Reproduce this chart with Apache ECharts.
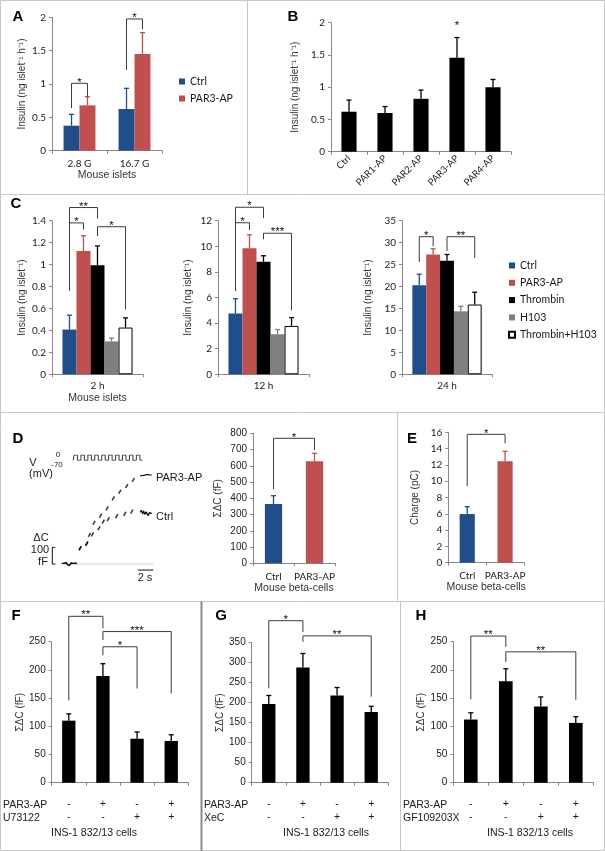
<!DOCTYPE html>
<html>
<head>
<meta charset="utf-8">
<script src="https://cdn.jsdelivr.net/npm/echarts@6/dist/echarts.min.js"></script>
<style>
  html, body { margin: 0; padding: 0; background: #fff; }
  #chart { width: 605px; height: 851px; }
</style>
</head>
<body>
<div id="chart"></div>
<script>
// ---------- values ----------
// A: mouse islets, 2.8 G vs 16.7 G glucose
const aCats = ['2.8 G', '16.7 G'];
const aCtrl = [0.375, 0.625];
const aCtrlErr = [0.545, 0.935];
const aPar3 = [0.68, 1.45];
const aPar3Err = [0.81, 1.77];

// B: PAR agonist peptides
const bCats = ['Ctrl', 'PAR1-AP', 'PAR2-AP', 'PAR3-AP', 'PAR4-AP'];
const bVals = [0.62, 0.6, 0.82, 1.455, 1.0];
const bErr = [0.8, 0.7, 0.955, 1.77, 1.12];

// C: time course
const cGroups = ['Ctrl', 'PAR3-AP', 'Thrombin', 'H103', 'Thrombin+H103'];
const cTimes = ['2 h', '12 h', '24 h'];
const c2h = [0.408, 1.123, 0.995, 0.30, 0.426];
const c2hErr = [0.539, 1.263, 1.17, 0.33, 0.514];
const c12h = [4.75, 9.84, 8.79, 3.13, 3.78];
const c12hErr = [5.9, 10.9, 9.26, 3.5, 4.43];
const c24h = [20.3, 27.3, 25.9, 14.35, 15.9];
const c24hErr = [22.8, 28.6, 27.3, 15.5, 18.7];

// D: capacitance trace (s, fF)
const baseT = [0, 0.15, 0.3, 0.45, 0.6, 0.75, 0.9, 1.05, 1.2, 1.35, 1.5, 1.65, 1.8, 1.95];
const baseC = [4, -6, 5, -2, 8, -4, 2, -7, 6, -3, 4, -5, 7, 0];
const par3StepT = [2.4, 3.25, 3.6, 4.2, 5.05, 5.9, 6.7, 7.55, 8.45, 9.3];
const par3StepC = [94, 120, 174, 247, 290, 333, 393, 433, 467, 503];
const ctrlStepT = [2.4, 3.25, 4.0, 4.85, 5.4, 6.05, 7.15, 8.2, 9.1];
const ctrlStepC = [96, 124, 178, 214, 254, 269, 287, 300, 314];
const plateauT = [10.2, 10.35, 10.5, 10.65, 10.8, 10.95, 11.1, 11.25, 11.4, 11.55, 11.7];
const par3Plateau = [528, 535, 530, 538, 532, 529, 536, 531, 534, 530, 533];
const ctrlPlateau = [310, 322, 300, 318, 296, 312, 305, 290, 308, 299, 302];
const pulseStarts = [1.6, 2.5, 3.4, 4.3, 5.2, 6.1, 7.0, 7.9, 8.8, 9.7];
const pulseWidth = 0.45;
const pulseTrain = [1.5, 10.5];
const traceEnd = 11.9;
const scaleFF = 100;
const scaleSec = 2;

// D bars / E
const dCats = ['Ctrl', 'PAR3-AP'];
const dVals = [365, 628];
const dErr = [416, 677];
const eVals = [5.97, 12.44];
const eErr = [6.87, 13.67];

// F, G, H: INS-1 832/13 cells
const par3Signs = ['-', '+', '-', '+'];
const inhibSigns = ['-', '-', '+', '+'];
const fVals = [110, 189, 78, 74];
const fErr = [122, 211, 90, 85];
const gVals = [197, 288, 218, 177];
const gErr = [218, 323, 238, 191];
const hVals = [112, 180, 135, 106];
const hErr = [124, 202, 152, 117];

// significance brackets: [leftCat, leftBar, rightCat, rightBar, yLeft, yTop, yRight, text]
const aSig = [[0, 0, 0, 1, 0.64, 1.01, 0.81, '*'], [1, 0, 1, 1, 1.21, 1.975, 1.82, '*']];
const bSig = [[3, 0, 3, 0, 1.93, 1.93, 1.93, '*']];
const c2hSig = [[0, 0, 0, 2, 0.76, 1.52, 1.42, '**'], [0, 0, 0, 1, 1.38, 1.38, 1.32, '*'], [0, 2, 0, 4, 1.26, 1.345, 0.59, '*']];
const c12hSig = [[0, 0, 0, 2, 6.5, 13.05, 12.2, '*'], [0, 0, 0, 1, 11.84, 11.84, 11.27, '*'], [0, 2, 0, 4, 10.55, 11.02, 5.0, '***']];
const c24hSig = [[0, 0, 0, 1, 25.6, 31.35, 29.2, '*'], [0, 2, 0, 4, 28.1, 31.35, 26.5, '**']];
const dSig = [[0, 0, 1, 0, 457, 769, 697, '*']];
const eSig = [[0, 0, 1, 0, 9.4, 15.75, 14.65, '*']];
const fSig = [[0, 0, 1, 0, 146, 295, 274, '**'], [1, 0, 3, 0, 253, 268, 158, '***'], [1, 0, 2, 0, 226, 241, 167, '*']];
const gSig = [[0, 0, 1, 0, 236, 405, 377, '*'], [1, 0, 3, 0, 352, 367, 215, '**']];
const hSig = [[0, 0, 1, 0, 148, 260, 241, '**'], [1, 0, 3, 0, 214, 232, 147, '**']];

// ---------- styling ----------
const SANS = '"Liberation Sans", Arial, sans-serif';
const CAL = 'Lato, "Liberation Sans", sans-serif';
const AXIS = '#878787';
const INK = '#1a1a1a';
const BLUE = '#1f4e8a', RED = '#c0504d', GREY = '#7f7f7f', BLACK = '#000000';
const cColors = [BLUE, RED, BLACK, GREY, '#ffffff'];
const cErrColors = [BLUE, RED, BLACK, GREY, BLACK];

const chart = echarts.init(document.getElementById('chart'));

const grids = [
  { left: 52, top: 17.3, width: 110, height: 133.4 },       // A
  { left: 331, top: 22.7, width: 180, height: 129 },        // B
  { left: 52, top: 220.7, width: 91, height: 153.6 },       // C 2h
  { left: 218, top: 220.7, width: 91, height: 153.6 },      // C 12h
  { left: 402, top: 220.7, width: 90, height: 153.6 },      // C 24h
  { left: 61.7, top: 463.8, width: 91.6, height: 108.6 },   // D trace
  { left: 61.7, top: 455, width: 91.6, height: 5.3 },       // D pulses
  { left: 253, top: 433.3, width: 82, height: 130 },        // D bars
  { left: 448.3, top: 432.3, width: 75.7, height: 130.4 },  // E
  { left: 51.7, top: 641.7, width: 136.6, height: 141 },    // F
  { left: 251.7, top: 642.7, width: 136.6, height: 140 },   // G
  { left: 453.3, top: 641.7, width: 140, height: 141 }      // H
].map(g => Object.assign({ outerBoundsMode: 'none', containLabel: false }, g));

function valAxis(gi, max, interval, name, nameGap, font) {
  return {
    type: 'value', gridIndex: gi, min: 0, max: max, interval: interval,
    name: name, nameLocation: 'middle', nameGap: nameGap,
    nameTextStyle: { fontFamily: SANS, fontSize: 10, color: '#333' },
    axisLine: { show: true, lineStyle: { color: AXIS, width: 1 } },
    axisTick: { show: true, length: 3, lineStyle: { color: AXIS } },
    splitLine: { show: false },
    axisLabel: { fontFamily: font || CAL, fontSize: 10, color: INK, margin: 6 }
  };
}
function catAxis(gi, data, label, name, nameGap) {
  return {
    type: 'category', gridIndex: gi, data: data,
    name: name || '', nameLocation: 'middle', nameGap: nameGap || 0,
    nameTextStyle: { fontFamily: SANS, fontSize: 10.5, color: '#333' },
    axisLine: { show: true, lineStyle: { color: AXIS, width: 1 } },
    axisTick: { show: true, interval: 0, length: 3, lineStyle: { color: AXIS } },
    axisLabel: Object.assign({ interval: 0, fontFamily: CAL, fontSize: 10, color: INK, margin: 6 }, label || {})
  };
}
function hiddenAxis(gi, min, max) {
  return { type: 'value', gridIndex: gi, min: min, max: max, show: false };
}

// x position of a bar centre inside a category band
function barX(api, cat, bi, nBars, gap) {
  const bw = api.size([1, 0])[0] * (1 - gap) / nBars;
  return api.coord([cat, 0])[0] + (bi - (nBars - 1) / 2) * bw;
}

function errSeries(gi, nBars, gap, items, colorOf) {
  return {
    type: 'custom', xAxisIndex: gi, yAxisIndex: gi, clip: false, silent: true, z: 4,
    data: items,
    renderItem: function (params, api) {
      const cat = api.value(0), bi = api.value(1);
      const x = barX(api, cat, bi, nBars, gap);
      const y0 = api.coord([cat, api.value(2)])[1];
      const y1 = api.coord([cat, api.value(3)])[1];
      const c = colorOf(cat, bi);
      return {
        type: 'group', children: [
          { type: 'line', shape: { x1: x, y1: y0, x2: x, y2: y1 }, style: { stroke: c, lineWidth: 1.3 } },
          { type: 'line', shape: { x1: x - 2.5, y1: y1, x2: x + 2.5, y2: y1 }, style: { stroke: c, lineWidth: 1.3 } }
        ]
      };
    }
  };
}

function sigSeries(gi, nBars, gap, list) {
  return {
    type: 'custom', xAxisIndex: gi, yAxisIndex: gi, clip: false, silent: true, z: 5,
    data: list.map(b => b.slice(0, 7)),
    renderItem: function (params, api) {
      const b = list[params.dataIndex];
      const xl = barX(api, b[0], b[1], nBars, gap);
      const xr = barX(api, b[2], b[3], nBars, gap);
      const yl = api.coord([0, b[4]])[1];
      const yt = api.coord([0, b[5]])[1];
      const yr = api.coord([0, b[6]])[1];
      const children = [];
      if (xr !== xl) {
        children.push({
          type: 'polyline',
          shape: { points: [[xl, yl], [xl, yt], [xr, yt], [xr, yr]] },
          style: { stroke: '#3a3a3a', fill: null, lineWidth: 1 }
        });
      }
      children.push({
        type: 'text',
        style: {
          text: b[7], x: (xl + xr) / 2, y: yt - 1, align: 'center', verticalAlign: 'middle',
          fontFamily: SANS, fontSize: 11.5, fill: '#111'
        }
      });
      return { type: 'group', children: children };
    }
  };
}

function singleBars(gi, vals, colors, gap, name) {
  return {
    type: 'bar', name: name, xAxisIndex: gi, yAxisIndex: gi, barCategoryGap: gap,
    data: vals.map((v, i) => ({ value: v, itemStyle: { color: colors[i] } }))
  };
}

const signLabels = par3Signs.map((s, i) => s + '\n' + inhibSigns[i]);
const signLabel = { margin: 15, lineHeight: 13, fontFamily: SANS, fontSize: 10.5 };

const xAxes = [
  catAxis(0, aCats, { margin: 8 }, 'Mouse islets', 19),
  catAxis(1, bCats, { rotate: 45, margin: 5, fontSize: 9.5 }),
  catAxis(2, [cTimes[0]], { margin: 6 }, 'Mouse islets', 18),
  catAxis(3, [cTimes[1]], { margin: 6 }),
  catAxis(4, [cTimes[2]], { margin: 6 }),
  hiddenAxis(5, 0, traceEnd),
  hiddenAxis(6, 0, traceEnd),
  catAxis(7, dCats, { margin: 8 }, 'Mouse beta-cells', 19),
  catAxis(8, dCats, { margin: 8 }, 'Mouse beta-cells', 19),
  catAxis(9, signLabels, signLabel),
  catAxis(10, signLabels, signLabel),
  catAxis(11, signLabels, signLabel)
];

const insulinH = 'Insulin (ng islet\u207B\u00B9 h\u207B\u00B9)';
const insulin = 'Insulin (ng islet\u207B\u00B9)';
const sdc = '\u03A3\u0394C (fF)';
const yAxes = [
  valAxis(0, 2, 0.5, insulinH, 25),
  valAxis(1, 2, 0.5, insulinH, 31),
  valAxis(2, 1.4, 0.2, insulin, 25),
  valAxis(3, 12, 2, insulin, 25),
  valAxis(4, 35, 5, insulin, 29),
  hiddenAxis(5, -50, 600),
  hiddenAxis(6, -70, 0),
  valAxis(7, 800, 100, sdc, 30, SANS),
  valAxis(8, 16, 2, 'Charge (pC)', 28),
  valAxis(9, 250, 50, sdc, 15, SANS),
  valAxis(10, 350, 50, sdc, 15, SANS),
  valAxis(11, 250, 50, sdc, 15.6, SANS)
];

const series = [];

// A
series.push(
  { type: 'bar', name: 'Ctrl', xAxisIndex: 0, yAxisIndex: 0, data: aCtrl, barGap: '0%', barCategoryGap: '42%', itemStyle: { color: BLUE } },
  { type: 'bar', name: 'PAR3-AP', xAxisIndex: 0, yAxisIndex: 0, data: aPar3, barGap: '0%', barCategoryGap: '42%', itemStyle: { color: RED } },
  errSeries(0, 2, 0.42,
    aCats.map((c, i) => [i, 0, aCtrl[i], aCtrlErr[i]]).concat(aCats.map((c, i) => [i, 1, aPar3[i], aPar3Err[i]])),
    (c, b) => [BLUE, RED][b]),
  sigSeries(0, 2, 0.42, aSig)
);

// B
series.push(
  singleBars(1, bVals, bCats.map(() => BLACK), '58%', 'B'),
  errSeries(1, 1, 0.58, bCats.map((c, i) => [i, 0, bVals[i], bErr[i]]), () => BLACK),
  sigSeries(1, 1, 0.58, bSig)
);

// C
[[c2h, c2hErr, c2hSig], [c12h, c12hErr, c12hSig], [c24h, c24hErr, c24hSig]].forEach((set, k) => {
  const gi = 2 + k;
  cGroups.forEach((g, j) => {
    series.push({
      type: 'bar', name: g, xAxisIndex: gi, yAxisIndex: gi, data: [set[0][j]],
      barGap: '0%', barCategoryGap: '23%',
      itemStyle: j === 4 ? { color: '#ffffff', borderColor: BLACK, borderWidth: 1 } : { color: cColors[j] }
    });
  });
  series.push(
    errSeries(gi, 5, 0.23, cGroups.map((g, j) => [0, j, set[0][j], set[1][j]]), (c, b) => cErrColors[b]),
    sigSeries(gi, 5, 0.23, set[2])
  );
});

// D trace
const pulseData = [[pulseTrain[0], -70]];
pulseStarts.forEach(s => pulseData.push([s, -70], [s, 0], [s + pulseWidth, 0], [s + pulseWidth, -70]));
pulseData.push([pulseTrain[1], -70]);

const stepMark = { symbol: 'rect', symbolSize: [1.5, 4.5], symbolRotate: -30, itemStyle: { color: BLACK } };
series.push(
  { type: 'line', xAxisIndex: 5, yAxisIndex: 5, data: [[0, 0], [traceEnd, 0]], symbol: 'none', silent: true, z: 1,
    lineStyle: { color: '#cfcfcf', width: 1 } },
  { type: 'line', xAxisIndex: 5, yAxisIndex: 5, data: baseT.map((t, i) => [t, baseC[i]]), symbol: 'none', silent: true,
    lineStyle: { color: BLACK, width: 1.4 } },
  Object.assign({ type: 'scatter', xAxisIndex: 5, yAxisIndex: 5, silent: true,
    data: ctrlStepT.map((t, i) => [t, ctrlStepC[i]]) }, stepMark),
  Object.assign({ type: 'scatter', xAxisIndex: 5, yAxisIndex: 5, silent: true,
    data: par3StepT.map((t, i) => [t, par3StepC[i]]) }, stepMark),
  { type: 'line', xAxisIndex: 5, yAxisIndex: 5, data: plateauT.map((t, i) => [t, ctrlPlateau[i]]), symbol: 'none', silent: true,
    lineStyle: { color: BLACK, width: 1.2 } },
  { type: 'line', xAxisIndex: 5, yAxisIndex: 5, data: plateauT.map((t, i) => [t, par3Plateau[i]]), symbol: 'none', silent: true,
    lineStyle: { color: BLACK, width: 1.2 } },
  { type: 'line', xAxisIndex: 6, yAxisIndex: 6, data: pulseData, symbol: 'none', silent: true,
    lineStyle: { color: '#222', width: 0.9 } },
  {
    type: 'custom', xAxisIndex: 5, yAxisIndex: 5, clip: false, silent: true, data: [[0, 0]],
    renderItem: function (params, api) {
      const x = api.coord([-1.22, 0])[0];
      const y0 = api.coord([0, 0])[1], y1 = api.coord([0, scaleFF])[1];
      const sx0 = api.coord([traceEnd - scaleSec, 0])[0], sx1 = api.coord([traceEnd, 0])[0];
      const sy = api.coord([0, -36])[1];
      const st = { stroke: '#111', lineWidth: 1, fill: null };
      return {
        type: 'group', children: [
          { type: 'polyline', shape: { points: [[x + 3, y1], [x, y1], [x, y0], [x + 3, y0]] }, style: st },
          { type: 'line', shape: { x1: sx0, y1: sy, x2: sx1, y2: sy }, style: st }
        ]
      };
    }
  }
);

// D bars
series.push(
  singleBars(7, dVals, [BLUE, RED], '58%', 'D'),
  errSeries(7, 1, 0.58, dCats.map((c, i) => [i, 0, dVals[i], dErr[i]]), (c) => [BLUE, RED][c]),
  sigSeries(7, 1, 0.58, dSig)
);
// E
series.push(
  singleBars(8, eVals, [BLUE, RED], '60%', 'E'),
  errSeries(8, 1, 0.60, dCats.map((c, i) => [i, 0, eVals[i], eErr[i]]), (c) => [BLUE, RED][c]),
  sigSeries(8, 1, 0.60, eSig)
);
// F, G, H
[[fVals, fErr, fSig], [gVals, gErr, gSig], [hVals, hErr, hSig]].forEach((set, k) => {
  const gi = 9 + k;
  series.push(
    singleBars(gi, set[0], set[0].map(() => BLACK), '61%', 'FGH' + k),
    errSeries(gi, 1, 0.61, set[0].map((v, i) => [i, 0, v, set[1][i]]), () => BLACK),
    sigSeries(gi, 1, 0.61, set[2])
  );
});

// ---------- frame, panel letters and free text ----------
const DIV = '#c8c8c8';
function ln(x1, y1, x2, y2, color, w) {
  return { type: 'line', silent: true, shape: { x1: x1, y1: y1, x2: x2, y2: y2 }, style: { stroke: color || DIV, lineWidth: w || 1 } };
}
function tx(x, y, s, size, opt) {
  return {
    type: 'text', x: x, y: y, silent: true,
    style: Object.assign({ text: s, fontFamily: SANS, fontSize: size, fill: INK, align: 'center', verticalAlign: 'middle' }, opt || {})
  };
}
const letter = { fontWeight: 'bold', fill: '#000' };

const graphic = [
  { type: 'rect', silent: true, shape: { x: 0.5, y: 0.5, width: 604, height: 850 }, style: { fill: null, stroke: DIV, lineWidth: 1 } },
  ln(0, 194.5, 605, 194.5), ln(247.5, 0, 247.5, 194.5),
  ln(0, 412.5, 605, 412.5), ln(397.5, 412.5, 397.5, 601),
  ln(0, 601.5, 605, 601.5), ln(201.5, 601.5, 201.5, 851, '#8a8a8a', 2), ln(400.5, 601.5, 400.5, 851),
  tx(18, 17, 'A', 15, letter), tx(293, 17, 'B', 15, letter), tx(16, 204, 'C', 15, letter),
  tx(18, 439, 'D', 15, letter), tx(412, 439, 'E', 15, letter),
  tx(16, 616, 'F', 15, letter), tx(221, 616, 'G', 15, letter), tx(421, 616, 'H', 15, letter),
  // D trace annotations
  tx(33, 463, 'V', 11), tx(58, 455, '0', 8), tx(57, 465, '-70', 8), tx(41, 474, '(mV)', 11),
  tx(156, 478, 'PAR3-AP', 11, { align: 'left' }), tx(156, 517, 'Ctrl', 11, { align: 'left' }),
  tx(41, 538, '\u0394C', 11), tx(40, 549.5, '100', 11), tx(43, 562, 'fF', 11),
  tx(145, 578, '2 s', 11),
  // F, G, H row labels
  tx(3, 805, 'PAR3-AP', 10.5, { align: 'left' }), tx(3, 818, 'U73122', 10.5, { align: 'left' }),
  tx(204, 805, 'PAR3-AP', 10.5, { align: 'left' }), tx(204, 818, 'XeC', 10.5, { align: 'left' }),
  tx(403, 805, 'PAR3-AP', 10.5, { align: 'left' }), tx(403, 818, 'GF109203X', 10.5, { align: 'left' }),
  tx(94, 833, 'INS-1 832/13 cells', 10.5), tx(326, 833, 'INS-1 832/13 cells', 10.5), tx(530, 833, 'INS-1 832/13 cells', 10.5)
];

const legendText = { fontFamily: CAL, fontSize: 10.5, color: INK };
const option = {
  animation: false,
  backgroundColor: '#ffffff',
  grid: grids,
  xAxis: xAxes,
  yAxis: yAxes,
  legend: [
    { data: ['Ctrl', 'PAR3-AP'], orient: 'vertical', left: 179, top: 76, padding: 0, itemGap: 6,
      itemWidth: 6, itemHeight: 6, icon: 'rect', selectedMode: false, textStyle: legendText },
    { data: cGroups, orient: 'vertical', left: 508, top: 260, padding: 0, itemGap: 6.3,
      itemWidth: 6, itemHeight: 6, icon: 'rect', selectedMode: false, textStyle: legendText }
  ],
  series: series,
  graphic: graphic
};
chart.setOption(option);
</script>
</body>
</html>
